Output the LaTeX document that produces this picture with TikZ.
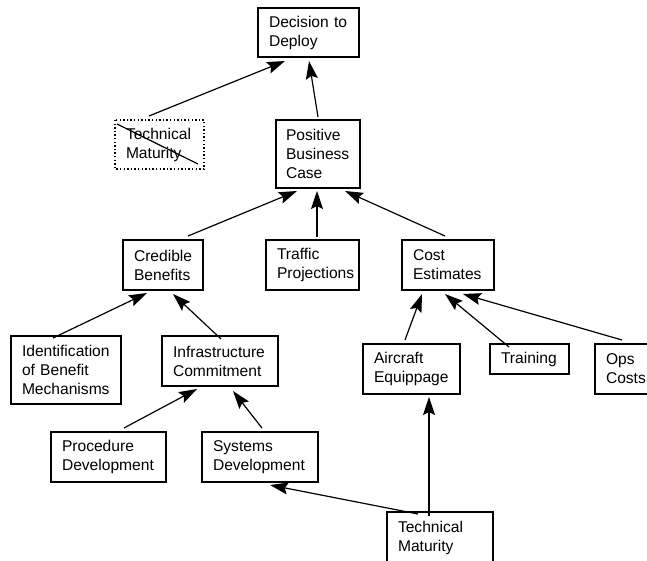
\documentclass[tikz,border=0pt]{standalone}
\usepackage{fontspec}
\setmainfont{Liberation Sans}
\usetikzlibrary{arrows.meta,calc}
\begin{document}
\begin{tikzpicture}[x=1pt,y=-1pt,
  bx/.style 2 args={draw, line width=1.2pt, anchor=north west, outer sep=0pt,
    inner xsep=11pt, inner ysep=0pt, text width=#1pt, minimum height=#2pt,
    align=left, font=\fontsize{15.6}{19}\selectfont},
  dotbox/.style={dash pattern=on 1.4pt off 2.2pt, line width=1.6pt},
  conn/.style={line width=1.2pt, -{Stealth[length=18pt,width=12pt,inset=3pt]}}]
\useasboundingbox (0,0) rectangle (647,561);

\node[bx={79}{49}] (dec) at (258,8) {Decision~to\\Deploy};
\node[bx={67}{49}, draw=none] (tmd) at (115,120) {Technical\\Maturity};
\draw[dotbox] (tmd.north west) rectangle (tmd.south east);
\draw[line width=1.2pt] ($(tmd.north west)+(2,4)$) -- ($(tmd.north west)+(83,44)$);
\node[bx={64}{68}, inner xsep=10pt] (pbc) at (276,120) {Positive\\Business\\Case};

\node[bx={58}{50}] (cb) at (123,240) {Credible\\Benefits};
\node[bx={71}{50}] (tp) at (266,240) {Traffic\\Projections};
\node[bx={70}{50}] (ce) at (402,240) {Cost\\Estimates};

\node[bx={88}{68}] (ibm) at (11,336) {Identification\\of~Benefit\\Mechanisms};
\node[bx={94}{50}] (ic) at (162,336) {Infrastructure\\Commitment};
\node[bx={75}{50}] (ae) at (363,344) {Aircraft\\Equippage};
\node[bx={57}{30}] (tr) at (490,344) {Training};
\node[bx={58}{50}] (ops) at (595,344) {Ops\\Costs};

\node[bx={93}{50}] (pd) at (51,432) {Procedure\\Development};
\node[bx={94}{50}] (sd) at (202,432) {Systems\\Development};
\node[bx={84}{52}] (tmb) at (387,512) {Technical\\Maturity};

\draw[conn] ($(tmd.north west)+(34,-4)$) -- ($(dec.south west)+(27,4)$);
\draw[conn] ($(pbc.north west)+(42,-3)$) -- ($(dec.south west)+(51,4)$);
\draw[conn] ($(cb.north west)+(65,-4)$) -- ($(pbc.south west)+(21,3)$);
\draw[conn] ($(tp.north west)+(51,-3)$) -- ($(pbc.south west)+(41,3)$);
\draw[conn] ($(ce.north west)+(43,-4)$) -- ($(pbc.south west)+(69,3)$);
\draw[conn] ($(ibm.north west)+(42,2)$) -- ($(cb.south west)+(24,3)$);
\draw[conn] ($(ic.north west)+(59,3)$) -- ($(cb.south west)+(50,4)$);
\draw[conn] ($(ae.north west)+(42,-4)$) -- ($(ce.south west)+(20,4)$);
\draw[conn] ($(tr.north west)+(19,3)$) -- ($(ce.south west)+(43,4)$);
\draw[conn] ($(ops.north west)+(27,-4)$) -- ($(ce.south west)+(61,4)$);
\draw[conn] ($(pd.north west)+(73,-4)$) -- ($(ic.south west)+(35,3)$);
\draw[conn] ($(sd.north west)+(60,-4)$) -- ($(ic.south west)+(71,5)$);
\draw[conn] ($(tmb.north west)+(42,4)$) -- ($(ae.south west)+(66,3)$);
\draw[conn] ($(tmb.north west)+(31,2)$) -- ($(sd.south west)+(68,3)$);
\end{tikzpicture}
\end{document}
